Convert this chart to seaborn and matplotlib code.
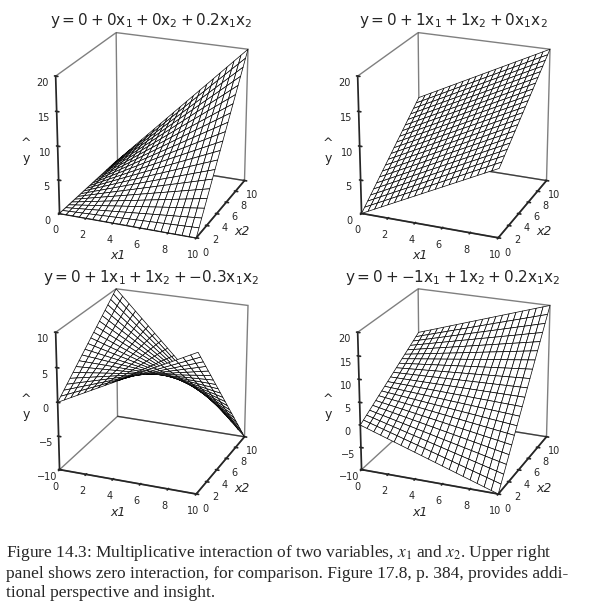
import numpy as np
import matplotlib
matplotlib.use("Agg")
import matplotlib.pyplot as plt
import seaborn as sns

sns.set_theme(style="white")
plt.rcParams['font.family'] = ['DejaVu Sans']

# model coefficients per panel: b0, b1, b2, b12
b0 = [0, 0, 0, 0]
b1 = [0, 1, 1, -1]
b2 = [0, 1, 1, 1]
b12 = [0.2, 0, -0.3, 0.2]
titles = [r"$\mathregular{y = 0 + 0x_1 + 0x_2 + 0.2x_1x_2}$",
          r"$\mathregular{y = 0 + 1x_1 + 1x_2 + 0x_1x_2}$",
          r"$\mathregular{y = 0 + 1x_1 + 1x_2 + {-0.3}x_1x_2}$",
          r"$\mathregular{y = 0 + {-1}x_1 + 1x_2 + 0.2x_1x_2}$"]
zlims = [(0, 20), (0, 20), (-10, 10), (-10, 20)]
zticks = [[0, 5, 10, 15, 20], [0, 5, 10, 15, 20], [-10, -5, 0, 5, 10], [-10, -5, 0, 5, 10, 15, 20]]
grid_vals = [0, 0.5, 1, 1.5, 2, 2.5, 3, 3.5, 4, 4.5, 5, 5.5, 6, 6.5, 7, 7.5, 8, 8.5, 9, 9.5, 10]

fig = plt.figure(figsize=(6.04, 6.10), dpi=100)
pos = [[0.0, 0.57, 0.5, 0.42], [0.5, 0.57, 0.5, 0.42],
       [0.0, 0.15, 0.5, 0.42], [0.5, 0.15, 0.5, 0.42]]

X1, X2 = np.meshgrid(grid_vals, grid_vals)
for i in range(4):
    ax = fig.add_axes(pos[i], projection='3d')
    Y = b0[i] + b1[i] * X1 + b2[i] * X2 + b12[i] * X1 * X2
    ax.plot_surface(X1, X2, Y, color='white', edgecolor='black', linewidth=0.5, shade=False)
    ax.view_init(elev=22, azim=-68)
    ax.set_box_aspect((1, 1, 1), zoom=0.95)
    ax.set_xlim(0, 10)
    ax.set_ylim(0, 10)
    ax.set_zlim(*zlims[i])
    ax.set_xticks([0, 2, 4, 6, 8, 10])
    ax.set_yticks([0, 2, 4, 6, 8, 10])
    ax.set_zticks(zticks[i])
    ax.zaxis._axinfo['juggled'] = (1, 2, 0)
    ax.tick_params(labelsize=7, pad=-2)
    ax.set_xlabel('x1', fontsize=9, labelpad=-6, fontstyle='italic')
    ax.set_ylabel('x2', fontsize=9, labelpad=-6, fontstyle='italic')
    ax.set_zlabel('^\ny', fontsize=9, labelpad=-6)
    for a in (ax.xaxis, ax.yaxis, ax.zaxis):
        a.pane.fill = False
        a.pane.set_edgecolor('black')
        a._axinfo['grid']['linewidth'] = 0
    ax.grid(False)
    ax.set_title(titles[i], fontsize=11, y=0.97)

caption = ("Figure 14.3: Multiplicative interaction of two variables, $x_1$ and $x_2$. Upper right\n"
           "panel shows zero interaction, for comparison. Figure 17.8, p. 384, provides addi-\n"
           "tional perspective and insight.")
fig.text(0.01, 0.015, caption, fontsize=12.5, family='Liberation Serif', va='bottom',
         linespacing=1.25, math_fontfamily='stix')

fig.savefig('out.png', dpi=100)
